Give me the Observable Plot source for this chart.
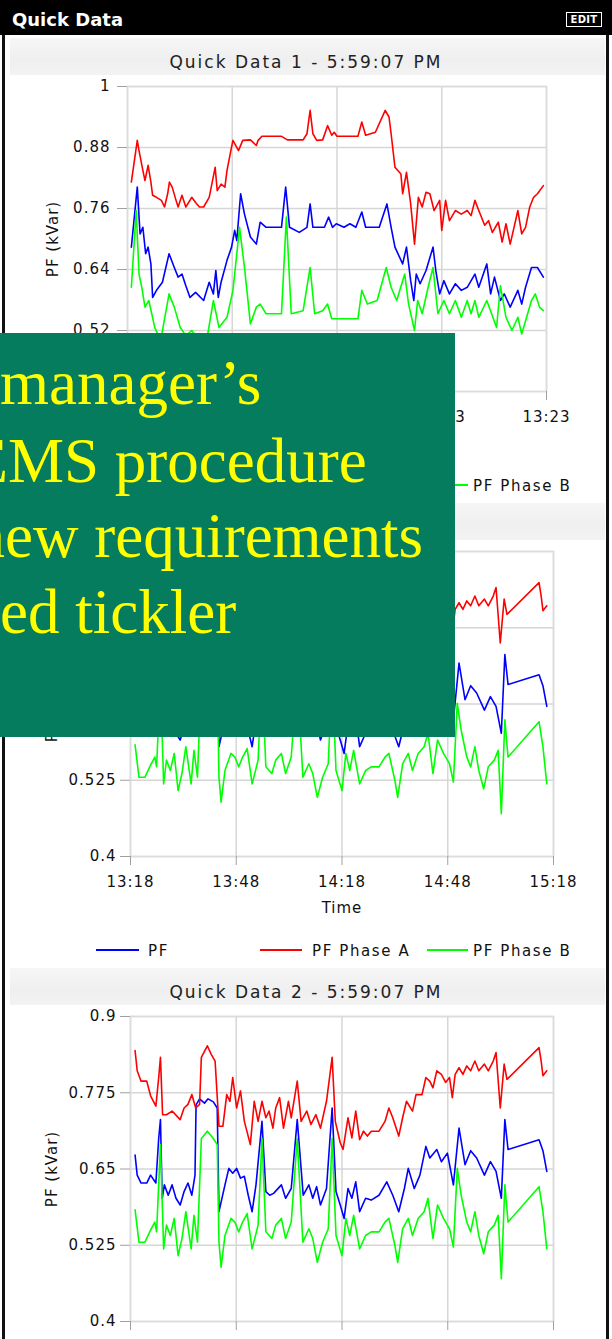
<!DOCTYPE html>
<html><head><meta charset="utf-8">
<script src="https://cdn.jsdelivr.net/npm/d3@7"></script>
<script src="https://cdn.jsdelivr.net/npm/@observablehq/plot@0.6"></script>
<style>
html,body{margin:0;padding:0;background:#fff;width:612px;height:1339px;overflow:hidden;}
#page{position:relative;width:612px;height:1339px;overflow:hidden;font-family:"DejaVu Sans",sans-serif;background:#fff;}
.band{position:absolute;left:10px;width:595px;height:37px;background:linear-gradient(#f6f6f6,#efefef 60%,#f3f3f3);}
.ptitle{position:absolute;left:0;width:612px;text-align:center;font-size:17px;letter-spacing:2px;color:#222;line-height:20px;}
.leg{position:absolute;height:20px;font-size:15px;letter-spacing:1.6px;color:#111;line-height:20px;}
.legline{position:absolute;height:2px;}
#header{position:absolute;left:0;top:0;width:612px;height:35px;background:#000;}
#header .t{position:absolute;left:12px;top:9px;color:#fff;font-weight:bold;font-size:18px;line-height:22px;}
#edit{position:absolute;left:566px;top:12px;width:34px;height:13px;border:1px solid #fff;color:#fff;font-size:10px;font-weight:bold;line-height:13px;text-align:center;letter-spacing:0.3px;}
#bl{position:absolute;left:2px;top:0;width:3px;height:1339px;background:#111;}
#br{position:absolute;left:606px;top:0;width:3px;height:1339px;background:#111;}
#overlay{position:absolute;left:0;top:333px;}
</style></head>
<body><div id="page"></div>
<script>
// ---------- data ----------
const panelTitles = ["Quick Data 1 - 5:59:07 PM", null, "Quick Data 2 - 5:59:07 PM"];
const seriesNames = ["PF", "PF Phase A", "PF Phase B"];
const seriesColors = ["#0000ff", "#ff0000", "#00ff00"];
const yLabel = "PF (kVar)";
const xLabel = "Time";

// Quick Data 1 (minutes after 11:23, value)
const start1 = "11:23";
const xTicks1 = ["11:23", "11:53", "12:23", "12:53", "13:23"];
const yTicks1 = [0.4, 0.52, 0.64, 0.76, 0.88, 1];
const yTickLabels1 = ["0.4", "0.52", "0.64", "0.76", "0.88", "1"];
const pf1 = [[1.1,0.684],[2.8,0.802],[3.6,0.710],[4.4,0.723],[5.2,0.671],[5.9,0.684],[6.7,0.651],[7.2,0.585],[8.3,0.599],[10.0,0.615],[11.9,0.671],[13.4,0.644],[14.5,0.625],[15.6,0.631],[16.7,0.608],[17.9,0.585],[19.5,0.595],[21.8,0.579],[23.4,0.615],[24.6,0.592],[25.3,0.638],[26.0,0.585],[26.8,0.615],[28.5,0.658],[29.8,0.684],[30.7,0.717],[31.3,0.697],[32.4,0.789],[33.5,0.749],[35.2,0.704],[36.9,0.690],[38.0,0.733],[39.7,0.723],[44.1,0.723],[45.3,0.802],[46.4,0.723],[49.2,0.713],[51.4,0.723],[52.3,0.769],[53.1,0.723],[56.4,0.723],[57.6,0.743],[58.7,0.723],[59.8,0.730],[62.0,0.723],[63.7,0.730],[65.4,0.723],[67.1,0.753],[68.2,0.723],[72.1,0.723],[74.3,0.769],[75.5,0.723],[76.6,0.684],[78.8,0.651],[79.9,0.684],[81.1,0.618],[82.0,0.579],[82.7,0.631],[83.8,0.612],[85.5,0.638],[87.5,0.684],[88.3,0.638],[89.4,0.592],[90.6,0.618],[92.2,0.592],[93.9,0.612],[95.6,0.599],[97.3,0.605],[99.5,0.631],[100.6,0.605],[102.9,0.651],[104.0,0.592],[105.1,0.625],[106.8,0.579],[107.9,0.592],[109.6,0.566],[111.8,0.599],[112.9,0.572],[114.0,0.605],[115.7,0.644],[117.4,0.644],[119.1,0.625]];
const phaseA1 = [[1.1,0.812],[2.8,0.894],[3.3,0.874],[4.4,0.835],[5.0,0.815],[5.9,0.845],[6.7,0.812],[7.2,0.786],[8.3,0.782],[9.7,0.776],[10.6,0.763],[11.5,0.789],[12.0,0.812],[12.8,0.802],[13.9,0.776],[14.5,0.763],[15.6,0.786],[16.7,0.763],[18.4,0.782],[19.5,0.772],[20.6,0.763],[21.8,0.763],[23.4,0.782],[25.1,0.841],[25.7,0.795],[26.8,0.808],[27.9,0.802],[28.5,0.835],[29.6,0.874],[30.2,0.894],[31.8,0.874],[33.0,0.894],[35.2,0.895],[36.9,0.884],[37.4,0.894],[38.5,0.902],[44.1,0.902],[45.8,0.895],[50.3,0.895],[51.4,0.907],[52.3,0.953],[53.1,0.907],[54.2,0.894],[55.9,0.895],[57.3,0.923],[58.5,0.904],[59.2,0.910],[60.0,0.902],[66.0,0.902],[67.1,0.930],[68.2,0.904],[71.0,0.910],[73.8,0.953],[74.9,0.940],[75.5,0.907],[76.6,0.841],[78.3,0.828],[78.8,0.789],[79.9,0.831],[81.1,0.769],[82.2,0.690],[83.3,0.782],[84.4,0.763],[85.5,0.792],[86.6,0.789],[87.8,0.756],[89.4,0.776],[90.0,0.717],[91.1,0.776],[92.2,0.736],[93.9,0.756],[95.6,0.749],[97.3,0.756],[98.4,0.746],[99.5,0.776],[100.6,0.756],[102.3,0.727],[103.4,0.736],[104.5,0.713],[106.2,0.733],[107.3,0.694],[108.4,0.730],[109.6,0.690],[110.7,0.723],[111.8,0.756],[112.9,0.710],[114.0,0.723],[115.2,0.763],[116.3,0.782],[117.4,0.789],[119.1,0.805]];
const phaseB1 = [[1.1,0.605],[2.5,0.756],[3.3,0.631],[4.1,0.605],[5.0,0.566],[6.1,0.579],[7.8,0.526],[9.5,0.500],[11.9,0.592],[13.4,0.566],[15.1,0.526],[16.7,0.510],[18.4,0.520],[20.6,0.500],[22.9,0.510],[24.6,0.579],[26.2,0.526],[28.5,0.546],[30.2,0.599],[32.1,0.723],[33.5,0.644],[35.2,0.533],[36.9,0.566],[38.0,0.572],[39.7,0.553],[44.1,0.553],[45.5,0.743],[46.9,0.553],[50.3,0.559],[52.3,0.644],[53.6,0.553],[55.9,0.559],[57.3,0.572],[58.5,0.543],[66.0,0.543],[67.1,0.599],[68.7,0.572],[71.5,0.579],[74.1,0.644],[75.5,0.605],[77.1,0.579],[79.4,0.631],[80.5,0.572],[82.2,0.520],[83.1,0.579],[84.4,0.553],[86.1,0.605],[87.5,0.644],[88.9,0.553],[90.6,0.579],[92.2,0.553],[93.9,0.579],[95.6,0.546],[97.3,0.579],[98.4,0.553],[99.5,0.579],[100.6,0.546],[102.9,0.579],[105.7,0.526],[106.8,0.608],[108.4,0.546],[110.1,0.520],[111.8,0.546],[112.9,0.513],[115.7,0.579],[116.8,0.592],[118.0,0.566],[119.1,0.559]];

// Quick Data 2 (minutes after 13:18, value)
const start2 = "13:18";
const xTicks2 = ["13:18", "13:48", "14:18", "14:48", "15:18"];
const yTicks2 = [0.4, 0.525, 0.65, 0.775, 0.9];
const yTickLabels2 = ["0.4", "0.525", "0.65", "0.775", "0.9"];
const pf2 = [[1.3,0.673],[1.9,0.640],[3.0,0.627],[4.6,0.627],[5.7,0.640],[7.2,0.627],[8.0,0.700],[8.5,0.731],[9.0,0.602],[9.6,0.624],[10.7,0.607],[11.8,0.624],[12.9,0.602],[14.1,0.591],[15.2,0.613],[16.3,0.627],[17.4,0.607],[18.3,0.640],[18.6,0.755],[19.6,0.765],[21.0,0.758],[22.0,0.765],[23.5,0.760],[24.6,0.750],[25.1,0.580],[26.8,0.624],[27.9,0.651],[29.0,0.643],[30.1,0.651],[31.2,0.635],[32.3,0.638],[33.4,0.607],[34.5,0.580],[35.6,0.624],[37.3,0.728],[38.4,0.613],[39.5,0.607],[40.6,0.610],[42.8,0.624],[44.0,0.602],[45.6,0.618],[47.3,0.731],[49.0,0.607],[50.6,0.624],[51.7,0.602],[52.8,0.621],[53.9,0.591],[55.6,0.618],[57.2,0.750],[58.3,0.613],[59.5,0.591],[60.6,0.569],[61.7,0.618],[62.8,0.602],[63.9,0.629],[65.0,0.580],[66.7,0.602],[68.3,0.599],[70.5,0.607],[72.7,0.629],[74.4,0.607],[76.1,0.580],[77.7,0.618],[78.8,0.651],[80.5,0.618],[82.1,0.640],[83.8,0.687],[84.9,0.668],[86.9,0.682],[88.2,0.662],[89.9,0.676],[91.6,0.624],[93.2,0.717],[94.9,0.657],[96.5,0.680],[98.2,0.668],[100.4,0.640],[102.1,0.662],[103.7,0.646],[105.2,0.602],[106.2,0.731],[107.1,0.682],[115.9,0.698],[117.0,0.680],[118.1,0.646]];
const phaseA2 = [[1.3,0.844],[1.9,0.811],[3.0,0.794],[4.6,0.794],[5.7,0.770],[7.2,0.753],[8.0,0.800],[8.5,0.833],[9.1,0.739],[10.2,0.739],[11.8,0.745],[14.1,0.731],[15.2,0.750],[16.3,0.756],[17.4,0.772],[18.5,0.750],[19.6,0.756],[20.1,0.833],[21.8,0.852],[22.9,0.838],[24.0,0.827],[25.1,0.720],[26.2,0.720],[27.3,0.772],[28.2,0.761],[29.0,0.800],[30.1,0.750],[31.2,0.778],[32.3,0.728],[34.0,0.690],[35.1,0.761],[36.2,0.728],[37.3,0.761],[38.4,0.734],[39.3,0.745],[40.4,0.717],[41.2,0.750],[42.3,0.767],[43.4,0.717],[44.8,0.761],[45.6,0.734],[47.3,0.794],[48.4,0.728],[50.0,0.745],[51.2,0.723],[52.6,0.739],[53.9,0.717],[55.6,0.761],[57.2,0.833],[58.1,0.728],[59.5,0.693],[60.3,0.682],[61.7,0.734],[62.8,0.701],[63.9,0.745],[65.0,0.698],[66.1,0.712],[67.2,0.704],[68.3,0.712],[70.5,0.712],[72.2,0.728],[73.3,0.750],[74.4,0.734],[76.1,0.704],[77.2,0.734],[78.3,0.761],[80.0,0.745],[81.0,0.772],[82.7,0.772],[83.8,0.800],[84.9,0.794],[85.8,0.783],[86.9,0.811],[88.2,0.805],[89.4,0.792],[90.5,0.800],[91.3,0.767],[92.1,0.805],[93.2,0.816],[94.3,0.805],[95.4,0.819],[96.5,0.811],[97.7,0.827],[98.8,0.811],[100.4,0.822],[101.5,0.811],[102.9,0.827],[103.7,0.841],[104.9,0.750],[106.0,0.822],[106.8,0.797],[115.9,0.849],[116.5,0.827],[117.0,0.803],[118.1,0.811]];
const phaseB2 = [[1.3,0.583],[2.4,0.530],[4.1,0.530],[5.7,0.550],[6.9,0.563],[7.4,0.547],[8.5,0.690],[9.4,0.519],[10.2,0.558],[11.3,0.541],[12.4,0.569],[13.5,0.508],[14.6,0.536],[15.7,0.580],[17.2,0.519],[18.0,0.574],[19.0,0.530],[20.1,0.700],[21.8,0.712],[23.5,0.700],[24.6,0.690],[25.1,0.530],[25.7,0.489],[26.8,0.541],[28.5,0.569],[29.6,0.563],[30.7,0.547],[31.8,0.563],[33.1,0.577],[34.5,0.519],[36.2,0.558],[37.3,0.700],[38.4,0.547],[40.1,0.536],[41.2,0.558],[42.8,0.569],[44.0,0.536],[45.6,0.563],[47.3,0.700],[48.9,0.530],[50.6,0.552],[51.7,0.536],[53.0,0.497],[54.5,0.530],[56.1,0.552],[57.2,0.700],[58.3,0.541],[60.0,0.508],[61.1,0.569],[62.2,0.541],[63.3,0.574],[65.0,0.519],[66.7,0.541],[68.3,0.547],[70.5,0.547],[72.2,0.563],[73.3,0.569],[75.0,0.525],[75.8,0.497],[77.2,0.552],[78.8,0.569],[80.0,0.541],[81.6,0.569],[83.3,0.580],[84.4,0.602],[85.8,0.536],[87.1,0.591],[88.8,0.569],[90.5,0.552],[91.6,0.522],[92.7,0.651],[93.8,0.607],[95.4,0.563],[96.5,0.547],[97.7,0.580],[98.8,0.541],[100.2,0.511],[101.5,0.547],[103.2,0.558],[104.3,0.574],[105.2,0.470],[106.2,0.624],[107.1,0.563],[115.9,0.621],[117.0,0.580],[118.1,0.519]];

// overlay slide text
const slideLines = ["manager\u2019s", "MS procedure", "ew requirements", "ed tickler"];
const slideClipped = ["", "E", "n", ""];

// ---------- build ----------
const page = document.getElementById("page");
function clock(hhmm) { const [h, m] = hhmm.split(":").map(Number); return new Date(2000, 0, 1, h, m); }
function at(start, minutes) { return new Date(clock(start).getTime() + minutes * 60000); }
const fmtTime = d3.timeFormat("%H:%M");

// texts fully covered by the slide box in the reference are left blank
const charts = [
  {plotTop: 86, ml: 127, mr: 66, yPad: 7, yLabOff: 80, start: start1, xTicks: xTicks1, yTicks: yTicks1, yLabels: yTickLabels1, domain: [0.4, 1], series: [pf1, phaseA1, phaseB1], title: panelTitles[0], xLab: null, legendShown: [false, false, true], hideX: ["11:23", "11:53", "12:23"], hideY: [0.4]},
  {plotTop: 551, ml: 130, mr: 59, yPad: 4, yLabOff: 84, start: start2, xTicks: xTicks2, yTicks: yTicks2, yLabels: yTickLabels2, domain: [0.4, 0.9], series: [pf2, phaseA2, phaseB2], title: panelTitles[1], xLab: xLabel, legendShown: [true, true, true], hideX: [], hideY: [0.65, 0.775, 0.9]},
  {plotTop: 1016, ml: 130, mr: 59, yPad: 4, yLabOff: 84, start: start2, xTicks: xTicks2, yTicks: yTicks2, yLabels: yTickLabels2, domain: [0.4, 0.9], series: [pf2, phaseA2, phaseB2], title: panelTitles[2], xLab: null, legendShown: null, hideX: [], hideY: []}
];
const plotH = 305, mTop = 20, mBottom = 75;

for (const c of charts) {
  const band = document.createElement("div");
  band.className = "band";
  band.style.top = (c.plotTop - 48) + "px";
  page.appendChild(band);
  if (c.title) {
    const t = document.createElement("div");
    t.className = "ptitle";
    t.style.top = (c.plotTop - 34) + "px";
    t.textContent = c.title;
    page.appendChild(t);
  }
  const xDates = c.xTicks.map(clock);
  const lines = c.series.map((s, i) => Plot.line(s, {x: d => at(c.start, d[0]), y: d => d[1], stroke: seriesColors[i], strokeWidth: 1.6}));
  const svg = Plot.plot({
    width: 612, height: mTop + plotH + mBottom,
    marginLeft: c.ml, marginRight: c.mr, marginTop: mTop, marginBottom: mBottom,
    style: {fontFamily: "DejaVu Sans", fontSize: "15px", letterSpacing: "1px", background: "transparent", color: "#111", overflow: "visible"},
    x: {type: "time", domain: [xDates[0], xDates[xDates.length - 1]]},
    y: {domain: c.domain},
    marks: [
      Plot.gridY(c.yTicks, {stroke: "#d6d6d6", strokeOpacity: 1, strokeWidth: 1.5}),
      Plot.gridX(xDates, {stroke: "#d6d6d6", strokeOpacity: 1, strokeWidth: 1.5}),
      Plot.frame({stroke: "#dcdcdc", strokeWidth: 1.5}),
      Plot.axisY(c.yTicks, {anchor: "left", tickSize: 10, tickPadding: c.yPad, stroke: "#a0a0a0", fill: "#111",
        tickFormat: d => c.hideY.includes(d) ? "" : c.yLabels[c.yTicks.indexOf(d)],
        label: yLabel, labelArrow: "none", labelAnchor: "center", labelOffset: c.yLabOff}),
      Plot.axisX(xDates, {anchor: "bottom", tickSize: 9, tickPadding: 11, stroke: "#a0a0a0", fill: "#111",
        tickFormat: d => c.hideX.includes(fmtTime(d)) ? "" : fmtTime(d),
        label: c.xLab, labelArrow: "none", labelAnchor: "center", labelOffset: 56}),
      ...lines
    ]
  });
  svg.style.position = "absolute";
  svg.style.left = "0px";
  svg.style.top = (c.plotTop - mTop) + "px";
  page.appendChild(svg);

  if (c.legendShown) {
    const ly = c.plotTop + plotH + 95;
    const cols = [{lx: 96, lw: 43, tx: 148}, {lx: 260, lw: 42, tx: 312}, {lx: 427, lw: 41, tx: 473}];
    seriesNames.forEach((name, i) => {
      if (!c.legendShown[i]) return;
      const ln = document.createElement("div");
      ln.className = "legline";
      ln.style.left = cols[i].lx + "px"; ln.style.width = cols[i].lw + "px";
      ln.style.top = (ly - 2) + "px"; ln.style.background = seriesColors[i];
      page.appendChild(ln);
      const tx = document.createElement("div");
      tx.className = "leg";
      tx.style.left = cols[i].tx + "px"; tx.style.top = (ly - 10) + "px";
      tx.textContent = name;
      page.appendChild(tx);
    });
  }
}

// header & border
const bl = document.createElement("div"); bl.id = "bl"; page.appendChild(bl);
const br = document.createElement("div"); br.id = "br"; page.appendChild(br);
const header = document.createElement("div"); header.id = "header";
header.innerHTML = '<div class="t">Quick Data</div><div id="edit">EDIT</div>';
page.appendChild(header);

// overlay slide box
const NS = "http://www.w3.org/2000/svg";
const ov = document.createElementNS(NS, "svg");
ov.setAttribute("id", "overlay"); ov.setAttribute("width", 455); ov.setAttribute("height", 404);
const rect = document.createElementNS(NS, "rect");
rect.setAttribute("width", 455); rect.setAttribute("height", 404); rect.setAttribute("fill", "#057c5e");
ov.appendChild(rect);
const baselines = [71, 149, 224, 300];
const lefts = [0, 8, 5, 0];
slideLines.forEach((s, i) => {
  if (slideClipped[i]) {
    const p = document.createElementNS(NS, "text");
    p.setAttribute("x", lefts[i]); p.setAttribute("y", baselines[i]); p.setAttribute("text-anchor", "end");
    p.setAttribute("font-family", "Liberation Serif"); p.setAttribute("font-size", 63); p.setAttribute("fill", "#ffff00");
    p.textContent = slideClipped[i];
    ov.appendChild(p);
  }
  const t = document.createElementNS(NS, "text");
  t.setAttribute("x", lefts[i]); t.setAttribute("y", baselines[i]);
  t.setAttribute("font-family", "Liberation Serif"); t.setAttribute("font-size", 63); t.setAttribute("fill", "#ffff00");
  t.textContent = s;
  ov.appendChild(t);
});
page.appendChild(ov);
</script>
</body></html>
